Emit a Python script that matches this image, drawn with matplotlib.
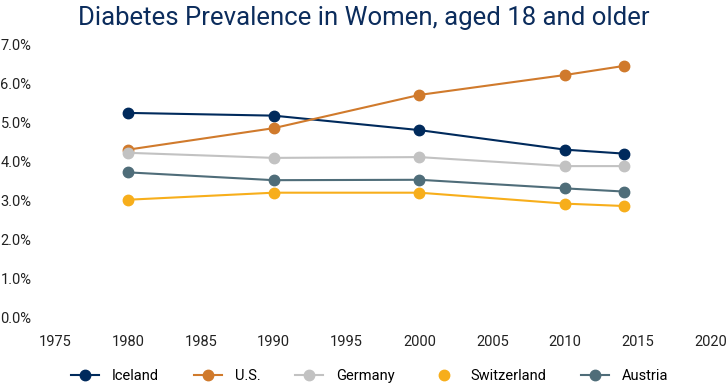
import matplotlib.pyplot as plt
from matplotlib.ticker import PercentFormatter

years = [1980, 1990, 2000, 2010, 2014]
iceland = [5.24, 5.17, 4.80, 4.30, 4.20]
us = [4.30, 4.85, 5.70, 6.21, 6.44]
germany = [4.22, 4.09, 4.11, 3.88, 3.88]
switzerland = [3.02, 3.20, 3.20, 2.92, 2.86]
austria = [3.72, 3.52, 3.53, 3.31, 3.23]

series = [
    ("Iceland", iceland, "#002a5c"),
    ("U.S.", us, "#d07a2c"),
    ("Germany", germany, "#c2c2c2"),
    ("Switzerland", switzerland, "#f7ae1b"),
    ("Austria", austria, "#4f6d79"),
]

plt.rcParams["font.family"] = ["Roboto", "DejaVu Sans"]

fig = plt.figure(figsize=(7.27, 3.9), dpi=100)
ax = fig.add_axes([0.0757, 0.185, 0.9023, 0.702])

for name, vals, color in series:
    ax.plot(years, vals, color=color, linewidth=1.5, marker="o",
            markersize=7.5, label=name)

ax.set_xlim(1975, 2020)
ax.set_ylim(0, 7)
ax.set_xticks(range(1975, 2021, 5))
ax.set_yticks(range(0, 8))
ax.yaxis.set_major_formatter(PercentFormatter(decimals=1))
for s in ax.spines.values():
    s.set_visible(False)
ax.tick_params(length=0, labelsize=10.5, colors="#222222")
ax.tick_params(axis="y", pad=17)
ax.tick_params(axis="x", pad=12)

fig.suptitle("Diabetes Prevalence in Women, aged 18 and older",
             x=0.5, y=0.985, fontsize=18.5, color="#0b2c5c")

leg = ax.legend(loc="upper center", bbox_to_anchor=(0.48, -0.14), ncol=5,
                frameon=False, fontsize=10.5, handlelength=1.9,
                columnspacing=2.4, handletextpad=0.9)
# Switzerland shows only its marker in the legend
leg.legend_handles[3].set_linestyle("none")

plt.savefig("out.png", dpi=100)
